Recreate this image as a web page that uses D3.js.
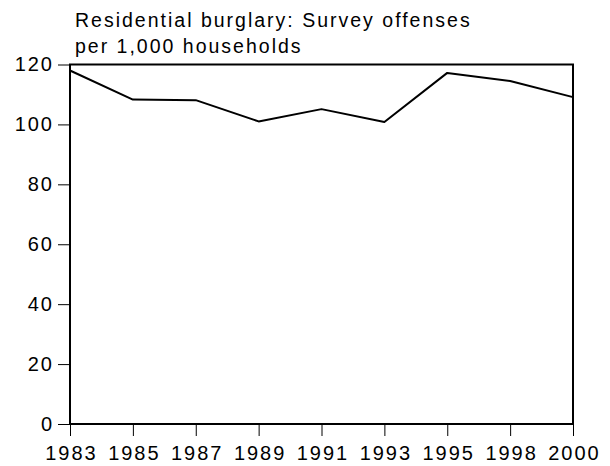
<!DOCTYPE html>
<html>
<head>
<meta charset="utf-8">
<script src="https://cdn.jsdelivr.net/npm/d3@7"></script>
<style>
  body { margin: 0; background: #fff; }
  text { font-family: "Liberation Sans", Arial, Helvetica, sans-serif; fill: #000; }
</style>
</head>
<body>
<div id="chart"></div>
<script>
// data
const years = ["1983", "1985", "1987", "1989", "1991", "1993", "1995", "1998", "2000"];
const offenses = [118, 108.3, 108.1, 101, 105.1, 100.8, 117.2, 114.5, 109.1];
const yTicks = [0, 20, 40, 60, 80, 100, 120];
const titleLines = ["Residential burglary: Survey offenses", "per 1,000 households"];

const W = 610, H = 466;
const margin = {top: 64.5, right: 37, bottom: 42, left: 70};

const svg = d3.select("#chart").append("svg")
  .attr("width", W)
  .attr("height", H);

const x = d3.scalePoint()
  .domain(years)
  .range([margin.left, W - margin.right]);

const y = d3.scaleLinear()
  .domain([0, 120])
  .range([H - margin.bottom, margin.top]);

// frame
svg.append("rect")
  .attr("x", margin.left)
  .attr("y", margin.top)
  .attr("width", W - margin.right - margin.left)
  .attr("height", H - margin.bottom - margin.top)
  .attr("fill", "none")
  .attr("stroke", "#000")
  .attr("stroke-width", 2);

// x axis
const xAxis = svg.append("g")
  .attr("transform", "translate(0," + (H - margin.bottom) + ")")
  .call(d3.axisBottom(x).tickSize(12).tickPadding(10));
xAxis.select(".domain").remove();
xAxis.selectAll("line").attr("stroke", "#000").attr("stroke-width", 1);
xAxis.selectAll("text")
  .attr("font-size", 20)
  .attr("dx", 1)
  .style("letter-spacing", "2px")
  .attr("font-family", null);

// y axis
const yAxis = svg.append("g")
  .attr("transform", "translate(" + margin.left + ",0)")
  .call(d3.axisLeft(y).tickValues(yTicks).tickSize(12).tickPadding(4));
yAxis.select(".domain").remove();
yAxis.selectAll("line").attr("stroke", "#000").attr("stroke-width", 1);
yAxis.selectAll("text")
  .attr("font-size", 20)
  .style("letter-spacing", "2px")
  .attr("font-family", null);

// line
const line = d3.line()
  .x((d, i) => x(years[i]))
  .y(d => y(d));

svg.append("path")
  .datum(offenses)
  .attr("d", line)
  .attr("fill", "none")
  .attr("stroke", "#000")
  .attr("stroke-width", 2)
  .attr("stroke-linejoin", "round");

// title
svg.append("g").selectAll("text")
  .data(titleLines)
  .join("text")
  .attr("x", 75)
  .attr("y", (d, i) => 27 + i * 26)
  .attr("font-size", 19.5)
  .style("letter-spacing", "2px")
  .text(d => d);
</script>
</body>
</html>
